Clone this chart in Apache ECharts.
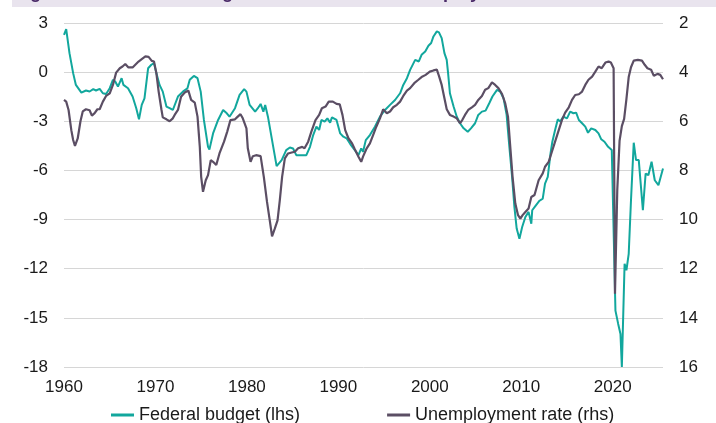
<!DOCTYPE html>
<html>
<head>
<meta charset="utf-8">
<script src="https://cdn.jsdelivr.net/npm/echarts@6/dist/echarts.min.js"></script>
<style>
  html, body { margin: 0; padding: 0; background: #ffffff; }
  #chart { width: 716px; height: 423px; }
</style>
</head>
<body>
<div id="chart"></div>
<script>
// Federal budget balance, % of GDP (left axis)
const budgetYears = [
  1960.0, 1960.24, 1960.6, 1961.0, 1961.3, 1961.9, 1962.4, 1962.8, 1963.2, 1963.5, 1963.9,
  1964.25, 1964.6, 1965.0, 1965.35, 1965.6, 1965.9, 1966.3, 1966.5, 1967.0, 1967.5, 1967.9,
  1968.2, 1968.5, 1968.8, 1969.2, 1969.55, 1969.84, 1970.1, 1970.45, 1970.8, 1971.2, 1971.55,
  1971.9, 1972.1, 1972.46, 1973.0, 1973.5, 1973.75, 1974.2, 1974.6, 1974.95, 1975.3, 1975.75,
  1975.9, 1976.3, 1976.85, 1977.4, 1977.8, 1978.1, 1978.7, 1979.2, 1979.7, 1979.95, 1980.3,
  1980.9, 1981.2, 1981.5, 1981.8, 1982.0, 1982.3, 1982.75, 1983.25, 1983.4, 1983.8, 1984.3,
  1984.7, 1985.05, 1985.4, 1985.8, 1986.5, 1986.9, 1987.25, 1987.6, 1987.9, 1988.15, 1988.5,
  1988.8, 1989.1, 1989.3, 1989.8, 1990.2, 1990.55, 1990.9, 1991.3, 1991.8, 1992.2, 1992.5,
  1992.7, 1993.0, 1993.45, 1994.0, 1994.55, 1995.1, 1995.65, 1996.2, 1996.75, 1997.1, 1997.5,
  1997.85, 1998.4, 1998.8, 1999.1, 1999.5, 1999.85, 2000.15, 2000.4, 2000.77, 2001.0, 2001.3,
  2001.6, 2001.85, 2002.0, 2002.2, 2002.6, 2002.95, 2003.3, 2003.7, 2004.15, 2004.5, 2004.95,
  2005.3, 2005.7, 2006.1, 2006.5, 2006.85, 2007.35, 2007.7, 2008.06, 2008.4, 2008.7, 2009.0,
  2009.25, 2009.5, 2009.8, 2010.1, 2010.45, 2010.8, 2011.1, 2011.2, 2011.6, 2012.0, 2012.35,
  2012.6, 2012.9, 2013.2, 2013.4, 2013.7, 2014.0, 2014.25, 2014.6, 2015.0, 2015.35, 2015.7,
  2016.0, 2016.3, 2016.65, 2017.0, 2017.3, 2017.65, 2018.1, 2018.45, 2018.75, 2019.1, 2019.5,
  2019.9, 2020.1, 2020.3, 2020.6, 2020.85, 2021.0, 2021.3, 2021.5, 2021.75, 2022.0, 2022.3,
  2022.55, 2022.85, 2023.3, 2023.6, 2023.9, 2024.25, 2024.6, 2025.0, 2025.5
];
const budgetValues = [
  2.28, 2.63, 1.16, -0.06, -0.78, -1.25, -1.12, -1.18, -1.04, -1.12, -1.02,
  -1.29, -1.33, -0.98, -0.47, -0.57, -0.88, -0.37, -0.78, -0.98, -1.49, -2.2,
  -2.88, -2.0, -1.6, 0.24, 0.45, 0.55, -0.06, -0.78, -1.19, -2.1, -2.2,
  -2.31, -2.2, -1.49, -1.19, -0.98, -0.47, -0.23, -0.37, -1.19, -2.92, -4.56,
  -4.72, -3.74, -2.92, -2.31, -2.51, -2.72, -2.2, -1.39, -1.04, -1.19, -2.0,
  -2.41, -2.2, -1.94, -2.41, -2.0, -2.72, -4.15, -5.74, -5.78, -5.37, -4.76,
  -4.6, -4.66, -5.07, -5.07, -5.07, -4.56, -3.84, -3.33, -3.53, -2.92, -3.02,
  -2.82, -3.08, -2.76, -2.92, -3.74, -3.94, -4.04, -4.39, -4.76, -5.07, -4.66,
  -4.86, -4.15, -3.84, -3.33, -2.72, -2.31, -2.0, -1.7, -1.29, -0.78, -0.37,
  0.14, 0.75, 0.65, 1.06, 1.26, 1.61, 1.78, 2.18, 2.49, 2.43, 2.08,
  1.16, 0.75, -0.06, -1.29, -2.1, -2.72, -3.12, -3.43, -3.64, -3.43, -3.12,
  -2.61, -2.41, -2.35, -1.9, -1.49, -1.08, -1.19, -1.59, -2.61, -4.56, -6.39,
  -8.23, -9.55, -10.17, -9.45, -8.84, -8.53, -9.25, -8.43, -8.13, -7.85, -7.72,
  -6.8, -6.39, -4.96, -4.25, -3.53, -2.88, -3.02, -2.72, -2.82, -2.41, -2.51,
  -2.47, -2.92, -3.12, -3.33, -3.7, -3.43, -3.53, -3.74, -4.1, -4.25, -4.56,
  -4.76, -4.76, -14.56, -15.37, -15.98, -18.0, -11.7, -12.1, -11.1, -7.82, -4.31,
  -5.37, -5.37, -8.43, -6.19, -6.29, -5.47, -6.6, -6.9, -5.88
];

// Unemployment rate, % (right axis, inverted)
const unempYears = [
  1960.0, 1960.24, 1960.5, 1960.8, 1961.0, 1961.2, 1961.5, 1961.8, 1962.05, 1962.4, 1962.8,
  1963.05, 1963.35, 1963.65, 1963.9, 1964.25, 1964.6, 1965.0, 1965.35, 1965.7, 1966.1, 1966.4,
  1966.7, 1967.05, 1967.5, 1967.7, 1968.15, 1968.5, 1968.9, 1969.25, 1969.6, 1969.84, 1970.1,
  1970.35, 1970.65, 1970.8, 1971.2, 1971.55, 1971.9, 1972.1, 1972.46, 1972.8, 1973.2, 1973.6,
  1973.9, 1974.3, 1974.6, 1974.85, 1975.0, 1975.2, 1975.5, 1975.75, 1976.05, 1976.3, 1976.65,
  1977.0, 1977.5, 1977.85, 1978.2, 1978.7, 1979.0, 1979.3, 1979.55, 1979.95, 1980.1, 1980.4,
  1980.65, 1981.0, 1981.5, 1981.85, 1982.2, 1982.5, 1982.75, 1983.05, 1983.35, 1983.6, 1983.85,
  1984.15, 1984.5, 1984.9, 1985.25, 1985.6, 1986.05, 1986.3, 1986.7, 1987.05, 1987.5, 1987.9,
  1988.2, 1988.6, 1988.95, 1989.4, 1989.8, 1990.15, 1990.45, 1990.75, 1991.1, 1991.5, 1991.8,
  1992.2, 1992.5, 1992.7, 1993.1, 1993.45, 1993.8, 1994.15, 1994.55, 1994.9, 1995.3, 1995.65,
  1996.0, 1996.4, 1996.75, 1997.1, 1997.5, 1997.85, 1998.3, 1998.75, 1999.1, 1999.55, 2000.0,
  2000.4, 2000.77, 2001.0, 2001.3, 2001.6, 2001.85, 2002.2, 2002.6, 2002.95, 2003.3, 2003.55,
  2003.85, 2004.2, 2004.6, 2004.95, 2005.3, 2005.7, 2006.05, 2006.4, 2006.8, 2007.15, 2007.5,
  2007.9, 2008.25, 2008.55, 2008.8, 2009.05, 2009.35, 2009.65, 2009.9, 2010.15, 2010.45, 2010.8,
  2011.1, 2011.45, 2011.9, 2012.35, 2012.6, 2013.0, 2013.35, 2013.7, 2014.1, 2014.45, 2014.8,
  2015.2, 2015.55, 2015.9, 2016.3, 2016.65, 2017.0, 2017.35, 2017.75, 2018.1, 2018.45, 2018.8,
  2019.2, 2019.55, 2019.8, 2020.1, 2020.25, 2020.5, 2020.75, 2021.0, 2021.25, 2021.5, 2021.75,
  2022.0, 2022.3, 2022.75, 2023.2, 2023.5, 2023.8, 2024.2, 2024.5, 2024.9, 2025.2, 2025.5
];
const unempValues = [
  5.13, 5.2, 5.54, 6.36, 6.76, 7.0, 6.7, 6.0, 5.6, 5.51, 5.55,
  5.77, 5.67, 5.51, 5.51, 5.2, 4.97, 4.86, 4.52, 4.02, 3.84, 3.77,
  3.67, 3.81, 3.81, 3.88, 3.57, 3.47, 3.36, 3.38, 3.54, 3.57, 4.04,
  4.79, 5.51, 5.84, 5.92, 6.0, 5.88, 5.74, 5.54, 5.0, 4.83, 4.75,
  5.13, 5.24, 5.81, 7.04, 8.26, 8.87, 8.4, 8.19, 7.58, 7.65, 7.78,
  7.31, 6.83, 6.42, 5.95, 5.92, 5.81, 5.71, 5.88, 6.29, 7.1, 7.65,
  7.42, 7.38, 7.42, 8.26, 9.28, 10.03, 10.68, 10.37, 10.03, 9.21, 8.26,
  7.51, 7.31, 7.27, 7.24, 7.1, 7.04, 7.1, 6.83, 6.42, 5.95, 5.74,
  5.47, 5.4, 5.2, 5.2, 5.29, 5.31, 5.74, 6.36, 6.69, 6.9, 7.14,
  7.44, 7.65, 7.44, 7.1, 6.9, 6.56, 6.22, 5.88, 5.51, 5.67, 5.6,
  5.43, 5.33, 5.2, 4.97, 4.75, 4.65, 4.45, 4.31, 4.2, 4.11, 3.98,
  3.93, 3.9, 4.15, 4.52, 5.06, 5.51, 5.74, 5.81, 5.88, 6.08, 5.95,
  5.74, 5.54, 5.43, 5.33, 5.13, 4.97, 4.72, 4.65, 4.42, 4.52, 4.65,
  4.89, 5.27, 5.81, 7.04, 8.26, 9.35, 9.82, 9.96, 9.82, 9.69, 9.55,
  9.08, 9.0, 8.4, 8.12, 7.85, 7.65, 7.24, 6.83, 6.36, 5.95, 5.65,
  5.43, 5.13, 4.93, 4.9, 4.79, 4.52, 4.31, 4.18, 3.98, 3.77, 3.84,
  3.61, 3.57, 3.61, 3.84, 13.02, 8.8, 6.8, 6.2, 5.9, 5.1, 4.2,
  3.8, 3.53, 3.5, 3.53, 3.7, 3.84, 3.9, 4.15, 4.07, 4.11, 4.29
];

const yearTicks = [1960, 1970, 1980, 1990, 2000, 2010, 2020];
const seriesNames = ['Federal budget (lhs)', 'Unemployment rate (rhs)'];
const titleText = 'Figure 3: US federal budget balance and the unemployment rate';

const TEAL = '#12a79d';
const PLUM = '#5b4e64';
const FONT = '"Liberation Sans", Arial, sans-serif';

function pairs(xs, ys) {
  return xs.map((x, i) => [x, ys[i]]);
}

const chart = echarts.init(document.getElementById('chart'), null, { renderer: 'canvas' });

chart.setOption({
  animation: false,
  backgroundColor: '#ffffff',
  graphic: [
    {
      type: 'rect',
      left: 12, top: 0,
      shape: { width: 704, height: 7 },
      style: { fill: '#e9e4ee' },
      silent: true,
      z: 1
    },
    {
      // heading sits mostly above the canvas edge; only its lower strokes show
      type: 'text',
      left: 14, top: -16,
      style: {
        text: titleText,
        font: 'bold 18px ' + FONT,
        fill: '#4a2a68'
      },
      silent: true,
      z: 2
    }
  ],
  grid: { left: 64, right: 53, top: 23, bottom: 56, containLabel: false },
  legend: {
    data: seriesNames,
    left: 106,
    top: 401,
    itemGap: 87,
    itemWidth: 23,
    itemHeight: 3,
    icon: 'rect',
    textStyle: { fontFamily: FONT, fontSize: 18, color: '#1a1a1a' }
  },
  xAxis: {
    type: 'value',
    min: 1960,
    max: 2025.5,
    interval: 10,
    axisLine: { show: false },
    axisTick: { show: false },
    splitLine: { show: false },
    axisLabel: {
      margin: 12,
      fontFamily: FONT,
      fontSize: 17,
      color: '#1a1a1a',
      formatter: v => (yearTicks.indexOf(v) >= 0 ? String(v) : '')
    }
  },
  yAxis: [
    {
      type: 'value',
      position: 'left',
      min: -18,
      max: 3,
      interval: 3,
      axisLine: { show: false },
      axisTick: { show: false },
      splitLine: { show: true, lineStyle: { color: '#d6d6d6', width: 1 } },
      axisLabel: { margin: 16, fontFamily: FONT, fontSize: 17, color: '#1a1a1a' }
    },
    {
      type: 'value',
      position: 'right',
      inverse: true,
      min: 2,
      max: 16,
      interval: 2,
      axisLine: { show: false },
      axisTick: { show: false },
      splitLine: { show: false },
      axisLabel: { margin: 16, fontFamily: FONT, fontSize: 17, color: '#1a1a1a' }
    }
  ],
  series: [
    {
      name: seriesNames[0],
      type: 'line',
      yAxisIndex: 0,
      data: pairs(budgetYears, budgetValues),
      showSymbol: false,
      color: TEAL,
      lineStyle: { color: TEAL, width: 2 },
      z: 2
    },
    {
      name: seriesNames[1],
      type: 'line',
      yAxisIndex: 1,
      data: pairs(unempYears, unempValues),
      showSymbol: false,
      color: PLUM,
      lineStyle: { color: PLUM, width: 2.2 },
      z: 3
    }
  ]
});
</script>
</body>
</html>
